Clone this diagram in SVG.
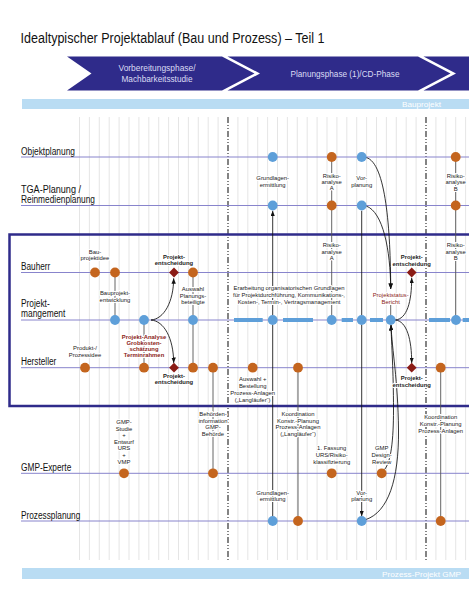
<svg xmlns="http://www.w3.org/2000/svg" xmlns:xlink="http://www.w3.org/1999/xlink" width="469" height="600" viewBox="0 0 469 600">
<style>
.t{font-family:"Liberation Sans",Arial,sans-serif}
.title{font-size:14px;fill:#111}
.lane{font-size:10px;fill:#111}
.ban{font-size:9px;fill:#dcdcf4;text-anchor:middle}
.barT{font-size:8px;fill:#fff}
.lb{font-size:5.9px;fill:#222;text-anchor:middle;paint-order:stroke;stroke:#fff;stroke-width:2.2px;stroke-linejoin:round}
.b{font-weight:bold}
.red{fill:#8b2418}
.grid{stroke:#dedede;stroke-width:.8;fill:none}
.dd{stroke:#333;stroke-width:1.2;stroke-dasharray:6 2 1 2 1 2;fill:none}
.ll{stroke:#8884cc;stroke-width:1;fill:none}
.v{stroke:#555;stroke-width:.9;fill:none}
.a{stroke:#111;stroke-width:.85;fill:none;marker-end:url(#ah)}
.a2{stroke:#111;stroke-width:.85;fill:none;marker-start:url(#ah);marker-end:url(#ah)}
.o{fill:#c4651e}
.bl{fill:#5e9fd9}
.dm{fill:#8b1c16}
</style>
<defs>
<marker id="ah" viewBox="0 0 10 8" refX="10" refY="4" markerWidth="5.5" markerHeight="4.4" markerUnits="userSpaceOnUse" orient="auto-start-reverse"><path d="M0,0L10,4L0,8z" fill="#111"/></marker>
<path id="dia" d="M0,-4.9L4.9,0L0,4.9L-4.9,0z"/>
</defs>
<rect width="469" height="600" fill="#fff"/>
<text class="t title" x="20.5" y="43" textLength="304" lengthAdjust="spacingAndGlyphs">Idealtypischer Projektablauf (Bau und Prozess) – Teil 1</text>
<g id="banner">
<polygon points="67,56.5 222,56.5 254.5,73.5 222,90.5 67,90.5 91.5,73.5" fill="#2f2b8a"/>
<polygon points="227.5,56.5 418,56.5 450.5,73.5 418,90.5 227.5,90.5 260,73.5" fill="#2f2b8a"/>
<polygon points="423.5,56.5 469,56.5 469,90.5 423.5,90.5 456,73.5" fill="#2f2b8a"/>
<text class="t ban" x="157" y="70.5" textLength="77" lengthAdjust="spacingAndGlyphs">Vorbereitungsphase/</text>
<text class="t ban" x="157" y="82" textLength="71" lengthAdjust="spacingAndGlyphs">Machbarkeitsstudie</text>
<text class="t ban" x="345" y="77" textLength="109" lengthAdjust="spacingAndGlyphs">Planungsphase (1)/CD-Phase</text>
</g>
<g id="bars">
<rect x="22" y="99" width="447" height="10" fill="#b9dcf3"/>
<text class="t barT" x="402" y="107" textLength="39" lengthAdjust="spacingAndGlyphs">Bauprojekt</text>
<rect x="22" y="568" width="447" height="11" fill="#b9dcf3"/>
<text class="t barT" x="382" y="577" font-size="8.5" textLength="79" lengthAdjust="spacingAndGlyphs">Prozess-Projekt GMP</text>
</g>
<path class="grid" d="M79.5 117V560M89.4 117V560M99.3 117V560M109.2 117V560M119.1 117V560M129 117V560M138.9 117V560M148.8 117V560M158.7 117V560M168.6 117V560M178.5 117V560M188.4 117V560M198.3 117V560M208.2 117V560M218.1 117V560M237.9 117V560M247.8 117V560M257.7 117V560M267.6 117V560M277.5 117V560M287.4 117V560M297.3 117V560M307.2 117V560M317.1 117V560M327 117V560M336.9 117V560M346.8 117V560M356.7 117V560M366.6 117V560M376.5 117V560M386.4 117V560M396.3 117V560M406.2 117V560M416.1 117V560M435.9 117V560M445.8 117V560M455.7 117V560M465.6 117V560"/>
<path class="dd" d="M228 117V560M426 117V560"/>
<g id="lanes">
<path class="ll" d="M21 157H469M21 205.5H469M21 272.5H469M21 320H469M21 367.7H469M21 473.3H469M21 521H469"/>
<text class="t lane" x="21" y="154.5" textLength="54" lengthAdjust="spacingAndGlyphs">Objektplanung</text>
<text class="t lane" x="21" y="192.5" textLength="60" lengthAdjust="spacingAndGlyphs">TGA-Planung /</text>
<text class="t lane" x="21" y="202.7" textLength="74" lengthAdjust="spacingAndGlyphs">Reinmedienplanung</text>
<text class="t lane" x="21" y="269.5" textLength="29.3" lengthAdjust="spacingAndGlyphs">Bauherr</text>
<text class="t lane" x="21" y="306.7" textLength="28.7" lengthAdjust="spacingAndGlyphs">Projekt-</text>
<text class="t lane" x="21" y="316.7" textLength="44.3" lengthAdjust="spacingAndGlyphs">mangement</text>
<text class="t lane" x="21" y="364.5" textLength="35.3" lengthAdjust="spacingAndGlyphs">Hersteller</text>
<text class="t lane" x="21" y="470.5" textLength="50.3" lengthAdjust="spacingAndGlyphs">GMP-Experte</text>
<text class="t lane" x="21" y="518.5" textLength="59.3" lengthAdjust="spacingAndGlyphs">Prozessplanung</text>
</g>
<rect id="box" x="9.5" y="234.5" width="470" height="171.5" fill="none" stroke="#2f2b8a" stroke-width="2.5"/>
<path id="pm-dashes" d="M234,320H262.7M283,320H313M341.7,320H353M370,320H383M429,320H450M462.7,320H469" stroke="#5e9fd9" stroke-width="4" fill="none"/>
<g id="connectors">
<path class="v" d="M115 272.5V320M193 272.5V367.7M144 320V367.7M213 367.7V473.3M331.7 157V320M455.7 157V320M298 367.7V521M440.7 367.7V521M390.7 305V316"/>
<path class="a2" d="M272.7 210.8V315.2M272.7 324.8V516.2M361.7 210.8V315.2M361.7 324.8V516.2"/>
<path class="a" d="M151,320C164,319 173.5,302 173.7,278.3"/>
<path class="a" d="M151,320C164,321 173.5,338 173.7,363"/>
<path class="a" d="M366.2,157.5C386,163 390.5,230 390.7,289"/>
<path class="a" d="M366.2,206C383,212 390.5,250 390.7,289"/>
<path class="a" d="M395.2,320C407,319 411.7,302 411.7,277.8"/>
<path class="a" d="M395.2,320C407,321 411.7,340 411.7,363"/>
<path class="a" d="M384.5,469.5C391,462 393.5,440 393.5,410C393.5,370 391.5,345 391,325"/>
<path class="a" d="M366,519.5C388,512 399,480 398.5,430C398,380 392,350 391,325"/>
</g>
<g id="n-ob1"><circle class="bl" cx="272.7" cy="157" r="4.9"/><text class="t lb" x="272.7" y="180">Grundlagen-<tspan x="272.7" dy="6.6">ermittlung</tspan></text></g>
<g id="n-ob2"><circle class="o" cx="331.7" cy="157" r="4.9"/><text class="t lb" x="331.7" y="177.7">Risiko-<tspan x="331.7" dy="6.3">analyse</tspan><tspan x="331.7" dy="6.3">A</tspan></text></g>
<g id="n-ob3"><circle class="bl" cx="361.7" cy="157" r="4.9"/><text class="t lb" x="361.7" y="180">Vor-<tspan x="361.7" dy="6.6">planung</tspan></text></g>
<g id="n-ob4"><circle class="o" cx="455.7" cy="157" r="4.9"/><text class="t lb" x="455.7" y="178">Risiko-<tspan x="455.7" dy="6.3">analyse</tspan><tspan x="455.7" dy="6.3">B</tspan></text></g>
<g id="n-tga1"><circle class="bl" cx="272.7" cy="205.5" r="4.9"/></g>
<g id="n-tga2"><circle class="o" cx="331.7" cy="205.5" r="4.9"/><text class="t lb" x="331.7" y="247">Risiko-<tspan x="331.7" dy="6.5">analyse</tspan><tspan x="331.7" dy="6.5">A</tspan></text></g>
<g id="n-tga3"><circle class="bl" cx="361.7" cy="205.5" r="4.9"/></g>
<g id="n-tga4"><circle class="o" cx="455.7" cy="205.5" r="4.9"/><text class="t lb" x="455.7" y="247">Risiko-<tspan x="455.7" dy="6.5">analyse</tspan><tspan x="455.7" dy="6.5">B</tspan></text></g>
<g id="n-bh1"><circle class="o" cx="95" cy="272.5" r="4.9"/><text class="t lb" x="95" y="253.7">Bau-<tspan x="95" dy="6.6">projektidee</tspan></text></g>
<g id="n-bh2"><circle class="o" cx="115" cy="272.5" r="4.9"/></g>
<g id="n-bh3"><use href="#dia" x="174" y="272.5" class="dm"/><text class="t lb b" x="174" y="258.7">Projekt-<tspan x="174" dy="6.6">entscheidung</tspan></text></g>
<g id="n-bh4"><circle class="o" cx="193" cy="272.5" r="4.9"/></g>
<g id="n-bh5"><use href="#dia" x="411.7" y="272.5" class="dm"/><text class="t lb b" x="411.7" y="259.3">Projekt-<tspan x="411.7" dy="6.6">entscheidung</tspan></text></g>
<g id="n-pm1"><circle class="bl" cx="115" cy="320" r="4.9"/><text class="t lb" x="115" y="295.3">Bauprojekt-<tspan x="115" dy="6.7">entwicklung</tspan></text></g>
<g id="n-pm2"><circle class="bl" cx="144" cy="320" r="4.9"/><text class="t lb b red" x="144" y="338.7">Projekt-Analyse<tspan x="144" dy="6">Grobkosten-</tspan><tspan x="144" dy="6">schätzung</tspan><tspan x="144" dy="6">Terminrahmen</tspan></text></g>
<g id="n-pm3"><circle class="bl" cx="193" cy="320" r="4.9"/><text class="t lb" x="193" y="291">Auswahl<tspan x="193" dy="6.5">Planungs-</tspan><tspan x="193" dy="6.5">beteiligte</tspan></text></g>
<g id="n-pm4"><circle class="bl" cx="272.7" cy="320" r="4.9"/><text class="t lb" x="289" y="290.3" font-size="5.6">Erarbeitung organisatorischen Grundlagen<tspan x="289" dy="6.7">für Projektdurchführung, Kommunikations-,</tspan><tspan x="289" dy="6.7">Kosten-, Termin-, Vertragsmanagement</tspan></text></g>
<g id="n-pm5"><circle class="bl" cx="331.7" cy="320" r="4.9"/></g>
<g id="n-pm6"><circle class="bl" cx="361.7" cy="320" r="4.9"/></g>
<g id="n-pm7"><circle class="bl" cx="390.7" cy="320" r="4.9"/><text class="t lb red" x="390.7" y="297">Projektstatus-<tspan x="390.7" dy="6.7">Bericht</tspan></text></g>
<g id="n-pm8"><circle class="bl" cx="456" cy="320" r="4.9"/></g>
<g id="n-he1"><circle class="o" cx="85" cy="367.7" r="4.9"/><text class="t lb" x="85" y="350.3">Produkt-/<tspan x="85" dy="6.7">Prozessidee</tspan></text></g>
<g id="n-he2"><circle class="o" cx="144" cy="367.7" r="4.9"/></g>
<g id="n-he3"><use href="#dia" x="174" y="367.7" class="dm"/><text class="t lb b" x="174" y="377.5">Projekt-<tspan x="174" dy="6.5">entscheidung</tspan></text></g>
<g id="n-he4"><circle class="o" cx="193" cy="367.7" r="4.9"/></g>
<g id="n-he5"><circle class="o" cx="213" cy="367.7" r="4.9"/><text class="t lb" x="213" y="416">Behörden-<tspan x="213" dy="6.7">information</tspan><tspan x="213" dy="6.7">GMP-</tspan><tspan x="213" dy="6.7">Behörde</tspan></text></g>
<g id="n-he6"><circle class="o" cx="252.7" cy="367.7" r="4.9"/><text class="t lb" x="252.7" y="381">Auswahl +<tspan x="252.7" dy="7">Bestellung</tspan><tspan x="252.7" dy="7">Prozess-Anlagen</tspan><tspan x="252.7" dy="7">(„Langläufer“)</tspan></text></g>
<g id="n-he7"><circle class="o" cx="298" cy="367.7" r="4.9"/><text class="t lb" x="298" y="416">Koordination<tspan x="298" dy="6.7">Konstr.-Planung</tspan><tspan x="298" dy="6.7">Prozess-Anlagen</tspan><tspan x="298" dy="6.7">(„Langläufer“)</tspan></text></g>
<g id="n-he8"><use href="#dia" x="411.7" y="367.7" class="dm"/><text class="t lb b" x="411.7" y="380">Projekt-<tspan x="411.7" dy="6.5">entscheidung</tspan></text></g>
<g id="n-he9"><circle class="o" cx="440.7" cy="367.7" r="4.9"/><text class="t lb" x="440.7" y="419.3">Koordination<tspan x="440.7" dy="6.7">Konstr.-Planung</tspan><tspan x="440.7" dy="6.7">Prozess-Anlagen</tspan></text></g>
<g id="n-gmp1"><circle class="o" cx="124" cy="473.3" r="4.9"/><text class="t lb" x="124" y="424">GMP-<tspan x="124" dy="6.6">Studie</tspan><tspan x="124" dy="6.6">+</tspan><tspan x="124" dy="6.6">Entwurf</tspan><tspan x="124" dy="6.6">URS</tspan><tspan x="124" dy="6.6">+</tspan><tspan x="124" dy="6.6">VMP</tspan></text></g>
<g id="n-gmp2"><circle class="o" cx="213" cy="473.3" r="4.9"/></g>
<g id="n-gmp3"><circle class="o" cx="331.7" cy="473.3" r="4.9"/><text class="t lb" x="331.7" y="450.3">1. Fassung<tspan x="331.7" dy="6.7">URS/Risiko-</tspan><tspan x="331.7" dy="6.7">klassifizierung</tspan></text></g>
<g id="n-gmp4"><circle class="o" cx="381.7" cy="473.3" r="4.9"/><text class="t lb" x="381.7" y="450.3">GMP<tspan x="381.7" dy="6.7">Design-</tspan><tspan x="381.7" dy="6.7">Review</tspan></text></g>
<g id="n-pp1"><circle class="bl" cx="272.7" cy="521" r="4.9"/><text class="t lb" x="272.7" y="494.7">Grundlagen-<tspan x="272.7" dy="6.6">ermittlung</tspan></text></g>
<g id="n-pp2"><circle class="o" cx="298" cy="521" r="4.9"/></g>
<g id="n-pp3"><circle class="bl" cx="361.7" cy="521" r="4.9"/><text class="t lb" x="361.7" y="494.7">Vor-<tspan x="361.7" dy="6.6">planung</tspan></text></g>
<g id="n-pp4"><circle class="o" cx="440.7" cy="521" r="4.9"/></g>
</svg>
